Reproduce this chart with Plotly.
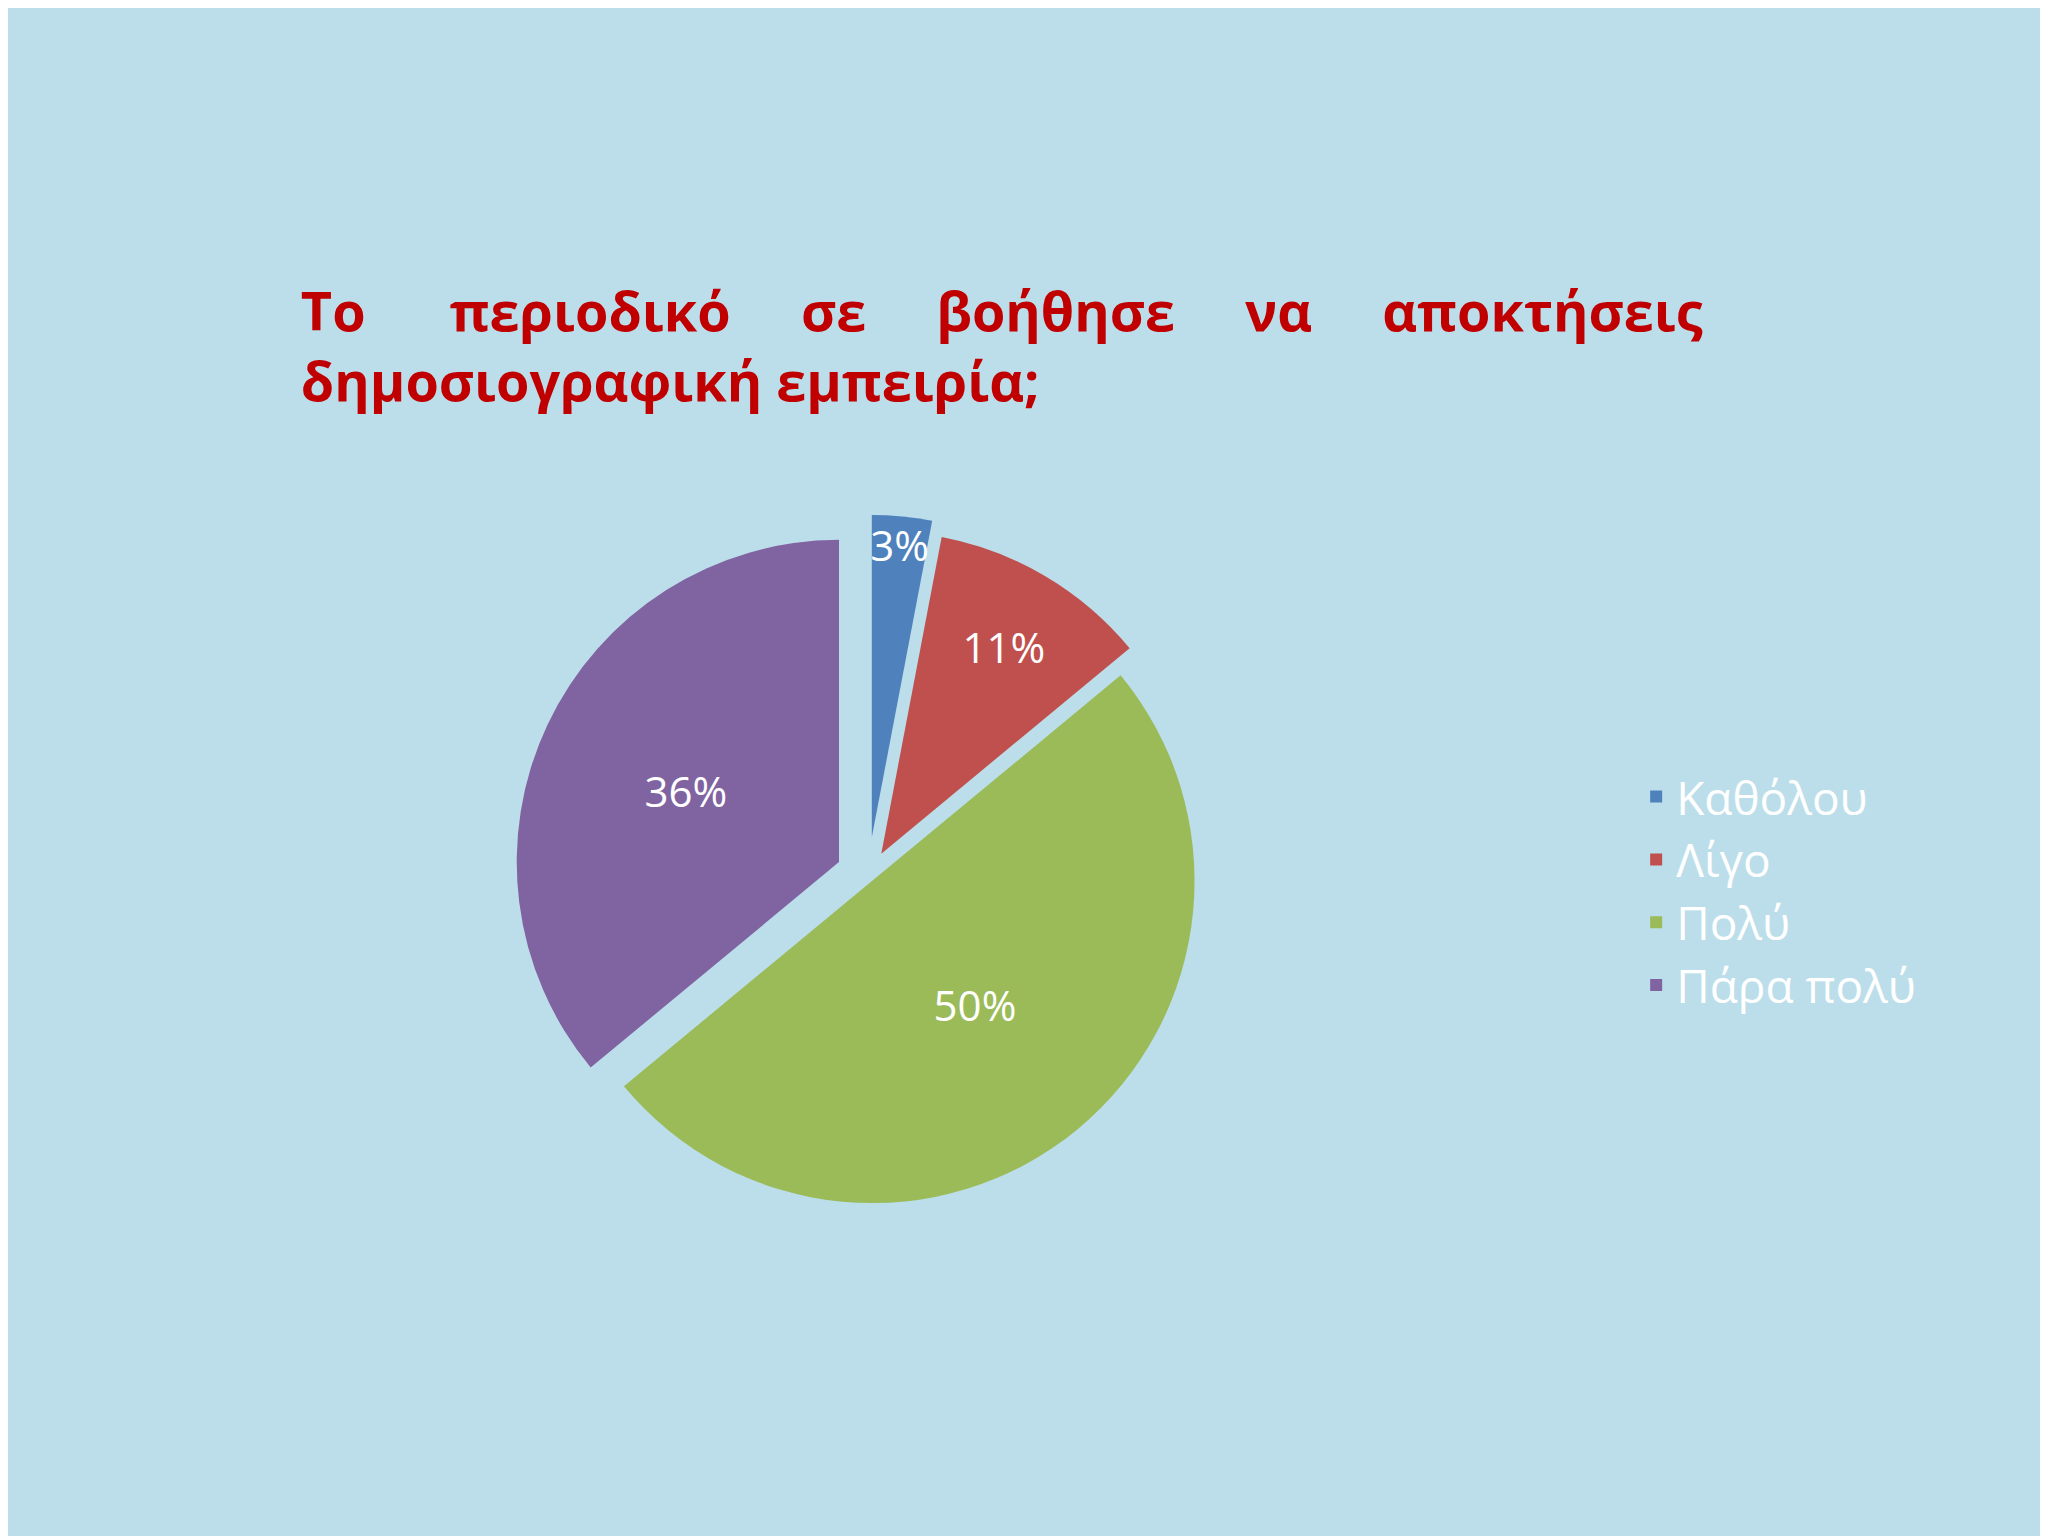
import plotly.graph_objects as go

labels = ["Καθόλου", "Λίγο", "Πολύ", "Πάρα πολύ"]
values = [3, 11, 50, 36]
colors = ["#4F81BD", "#C0504D", "#9BBB59", "#8064A2"]
title_text = ("Το&nbsp;&nbsp;&nbsp;&nbsp;&nbsp;&nbsp;περιοδικό&nbsp;&nbsp;&nbsp;&nbsp;&nbsp;σε&nbsp;&nbsp;&nbsp;&nbsp;&nbsp;"
              "βοήθησε&nbsp;&nbsp;&nbsp;&nbsp;&nbsp;να&nbsp;&nbsp;&nbsp;&nbsp;&nbsp;αποκτήσεις"
              "<br>δημοσιογραφική εμπειρία;")

fig = go.Figure(go.Pie(
    labels=labels,
    values=values,
    sort=False,
    direction="clockwise",
    rotation=0,
    pull=[0.12, 0.08, 0.02, 0.1],
    marker=dict(colors=colors, line=dict(width=0)),
    texttemplate="%{percent:.0%}",
    textposition="inside",
    insidetextorientation="horizontal",
    textfont=dict(color="white", size=42, family="Open Sans"),
    domain=dict(x=[0.12, 0.72], y=[0.2, 0.67]),
    hoverinfo="label+percent",
))

fig.update_layout(
    width=2048,
    height=1536,
    paper_bgcolor="#BCDEEA",
    margin=dict(l=0, r=0, t=0, b=0),
    uniformtext=dict(mode="show", minsize=42),
    title=dict(
        text=title_text,
        x=0.143, xanchor="left",
        y=0.79, yanchor="middle",
        font=dict(family="Open Sans", size=54, color="#C00000", weight="bold"),
    ),
    legend=dict(
        x=0.795, xanchor="left",
        y=0.425, yanchor="middle",
        font=dict(family="Open Sans", size=46, color="white"),
        bgcolor="rgba(0,0,0,0)",
    ),
)

fig.write_html("out.html")
